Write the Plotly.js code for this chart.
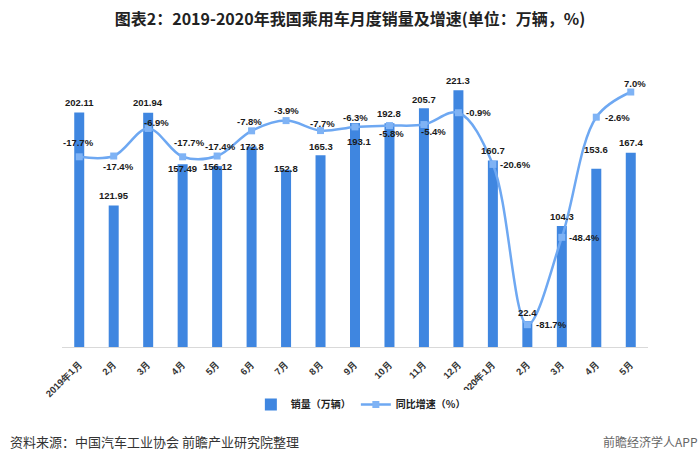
<!DOCTYPE html>
<html>
<head>
<meta charset="utf-8">
<script src="https://cdn.plot.ly/plotly-3.0.1.min.js"></script>
<style>html,body{margin:0;padding:0;background:#fff;}#chart{width:700px;height:462px;}</style>
</head>
<body>
<div id="chart"></div>
<script>
// ---- data ----
const monthLabels = ['2019年1月','2月','3月','4月','5月','6月','7月','8月','9月','10月','11月','12月','2020年1月','2月','3月','4月','5月'];
const sales = [202.11,121.95,201.94,157.49,156.12,172.8,152.8,165.3,193.1,192.8,205.7,221.3,160.7,22.4,104.3,153.6,167.4];
const growth = [-17.7,-17.4,-6.9,-17.7,-17.4,-7.8,-3.9,-7.7,-6.3,-5.8,-5.4,-0.9,-20.6,-81.7,-48.4,-2.6,7.0];
const seriesNames = ['销量（万辆）','同比增速（%）'];

// ---- label placement (pixel offsets, screen-down positive) ----
const barLabelDy = [-10,-10,-10,4,1,0,-1,-9,19,-10,-9,-10,-10,-9,-10,-19,-10];
const barLabelDx = [0,0,0,0,0,0,0,0,4,0,0,0,0,0,0,0,0];
const lineLabelDx = [-1,5,8,7,3,-2,0,2,0,2,10,20,23,24,23,21,4];
const lineLabelDy = [-14,10,-6,-14,-10,-9,-10,-7,-9,8,7,0,0,0,0,0,-9];

const xIdx = monthLabels.map((_, i) => i);
const barColor = '#3f86e0';
const lineColor = '#6ea8f2';
const labelFont = {family: 'Liberation Sans, Arial, sans-serif', size: 9.5, color: '#1a1a1a', weight: 'bold'};

const traces = [
  {
    type: 'bar', x: xIdx, y: sales, name: seriesNames[0],
    marker: {color: barColor}, yaxis: 'y', hoverinfo: 'y'
  },
  {
    type: 'scatter', mode: 'lines+markers', x: xIdx, y: growth, name: seriesNames[1],
    line: {color: lineColor, width: 2.5, shape: 'spline', smoothing: 1},
    marker: {symbol: 'square', size: 7, color: '#7fb3f5'},
    yaxis: 'y2', hoverinfo: 'y'
  }
];

const annotations = [];
sales.forEach((v, i) => {
  annotations.push({x: i, y: v, xref: 'x', yref: 'y', text: String(v), showarrow: false,
    xanchor: 'center', yanchor: 'middle', xshift: barLabelDx[i], yshift: -barLabelDy[i], font: labelFont});
});
growth.forEach((v, i) => {
  annotations.push({x: i, y: v, xref: 'x', yref: 'y2', text: v.toFixed(1) + '%', showarrow: false,
    xanchor: 'center', yanchor: 'middle', xshift: lineLabelDx[i], yshift: -lineLabelDy[i], font: labelFont});
});
annotations.push({xref: 'paper', yref: 'paper', x: -0.092, y: -0.331, xanchor: 'left', yanchor: 'middle',
  text: '资料来源：中国汽车工业协会 前瞻产业研究院整理', showarrow: false,
  font: {family: 'Noto Sans CJK SC, sans-serif', size: 13, color: '#333'}});
annotations.push({xref: 'paper', yref: 'paper', x: 1.089, y: -0.331, xanchor: 'right', yanchor: 'middle',
  text: '前瞻经济学人APP', showarrow: false,
  font: {family: 'Noto Sans CJK SC, sans-serif', size: 12, color: '#666'}});

const layout = {
  width: 700, height: 462,
  margin: {l: 62, r: 52, t: 60, b: 115},
  paper_bgcolor: '#fff', plot_bgcolor: '#fff',
  title: {text: '图表2：2019-2020年我国乘用车月度销量及增速(单位：万辆，%)',
    x: 0.5, xanchor: 'center', y: 0.957, yanchor: 'middle',
    font: {family: 'Noto Sans CJK SC, sans-serif', size: 16, color: '#222', weight: 'bold'}},
  xaxis: {
    range: [-0.5, 16.5], tickmode: 'array', tickvals: xIdx, ticktext: monthLabels,
    tickangle: -45, showgrid: false, zeroline: false, showline: true, linecolor: '#d9d9d9', linewidth: 1,
    ticks: '', ticklabelstandoff: 7,
    tickfont: {family: 'Liberation Sans, Arial, sans-serif', size: 9.5, color: '#333', weight: 'bold'}
  },
  yaxis: {range: [0, 247.4], visible: false, showgrid: false, zeroline: false},
  yaxis2: {range: [-90.2, 19.2], overlaying: 'y', side: 'right', visible: false, showgrid: false, zeroline: false},
  bargap: 0.71,
  showlegend: true,
  legend: {orientation: 'h', x: 0.51, xanchor: 'center', y: -0.2, yanchor: 'middle',
    font: {family: 'Noto Sans CJK SC, sans-serif', size: 10, color: '#222', weight: 'bold'},
    itemwidth: 30, tracegroupgap: 0},
  annotations: annotations
};

Plotly.newPlot('chart', traces, layout, {displayModeBar: false, staticPlot: true});
</script>
</body>
</html>
